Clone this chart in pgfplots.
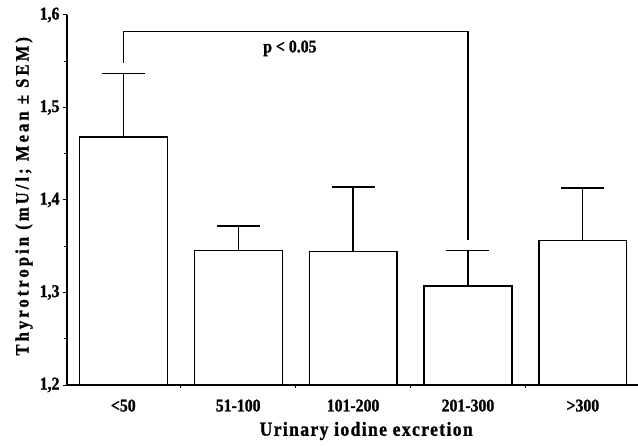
\documentclass[border=0pt]{standalone}
\usepackage{fontspec}
\setmainfont{Liberation Serif}[FakeStretch=0.88, BoldFeatures={FakeBold=1.2}]
\usepackage{pgfplots}
\pgfplotsset{compat=1.18}
\begin{document}
\begin{tikzpicture}
\begin{axis}[name=ax, scale only axis, width=571bp, height=370bp,
  axis lines=left, axis line style={line width=1.5bp, -},
  xmin=-0.49, xmax=4.48, ymin=1.2, ymax=1.6,
  ytick={1.2,1.3,1.4,1.5,1.6}, minor ytick={1.25,1.35,1.45,1.55},
  xtick={0,1,2,3,4}, xticklabels={<50,51-100,101-200,201-300,>300},
  minor xtick={0.5,1.5,2.5,3.5},
  tick align=outside, major tick length=4bp, minor tick length=3bp,
  major x tick style={draw=none},
  tick style={line width=1bp, black},
  ticklabel style={font=\fontsize{18}{20}\selectfont\bfseries},
  yticklabel style={/pgf/number format/.cd, fixed, fixed zerofill, precision=1, use comma, assume math mode=true},
  xticklabel style={anchor=north, yshift=-7bp},
  xlabel={\addfontfeature{LetterSpace=7}Urinary iodine excretion},
  ylabel={\addfontfeature{LetterSpace=16}Thyrotropin (mU/l; Mean ± SEM)},
  xlabel style={font=\fontsize{20}{22}\selectfont\bfseries, at={(axis description cs:0.524,0)}, anchor=center, yshift=-46bp},
  ylabel style={font=\fontsize{19}{21}\selectfont\bfseries, at={(axis description cs:-0.0753,0.51)}, anchor=center},
]
\addplot[ybar, bar width=0.765, fill=white, draw=black, line width=1.2bp,
  error bars/.cd, y dir=plus, y explicit,
  error bar style={line width=1.2bp},
  error mark options={rotate=90, mark size=21.5bp, line width=1.2bp}]
  coordinates {
  (0,1.468) +- (0,0.069)
  (1,1.345) +- (0,0.027)
  (2,1.344) +- (0,0.070)
  (3,1.307) +- (0,0.038)
  (4,1.356) +- (0,0.057)
  };
\draw[line width=1.2bp] (axis cs:0,1.548) -- (axis cs:0,1.582) -- (axis cs:3,1.582) -- (axis cs:3,1.357);
\node[font=\fontsize{18}{20}\selectfont\bfseries] at (axis cs:1.45,1.564) {p < 0.05};
\end{axis}
\pgfresetboundingbox
\path[use as bounding box] ([shift={(-67bp,-61bp)}]ax.south west) rectangle ([shift={(0bp,15bp)}]ax.north east);
\end{tikzpicture}
\end{document}
